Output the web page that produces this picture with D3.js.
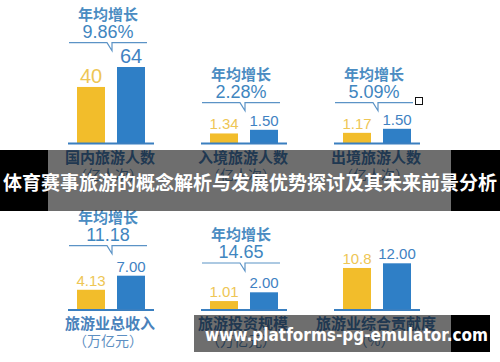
<!DOCTYPE html>
<html>
<head>
<meta charset="utf-8">
<script src="https://cdn.jsdelivr.net/npm/d3@7"></script>
<style>
body{margin:0;background:#fff;}
svg{display:block;}
</style>
</head>
<body>
<script>
// chart data
var panelNames=["国内旅游人数","入境旅游人数","出境旅游人数","旅游业总收入","旅游投资规模","旅游业综合贡献度"];
var panelUnits=["（亿人次）","（亿人次）","（亿人次）","（万亿元）","（万亿元）","（%）"];
var seriesNames=["基期","目标"];
var baseValues=[40,1.34,1.17,4.13,1.01,10.8];
var targetValues=[64,1.50,1.50,7.00,2.00,12.00];
var baseLabels=["40","1.34","1.17","4.13","1.01","10.8"];
var targetLabels=["64","1.50","1.50","7.00","2.00","12.00"];
var growthLabels=["9.86%","2.28%","5.09%","11.18","14.65",null];
var headline="体育赛事旅游的概念解析与发展优势探讨及其未来前景分析";
var siteText="www.platforms-pg-emulator.com";

// layout
var W=500,H=362;
var colX=[77,210,343];
var rowBase=[143.5,310];
var barTopH=[76.5,13.7,14.7,34.3,17.7,46.7];
var domainLo=[-28,0.9,0.3,0,0,0];
var calloutY=[42.7,102.7,102.7,245.7,263,null];
var yellow="#f2bd2b",blue="#2f7fc6",textBlue="#4a8cc2";

var svg=d3.select('body').append('svg').attr('width',W).attr('height',H);

for(let i=0;i<6;i++){
  var x0=colX[i%3];
  var base=rowBase[Math.floor(i/3)];
  var vals=[baseValues[i],targetValues[i]];
  var labs=[baseLabels[i],targetLabels[i]];

  var x=d3.scaleBand().domain(seriesNames).range([x0,x0+68]).paddingInner(0.3).paddingOuter(0);
  var y=d3.scaleLinear().domain([domainLo[i],targetValues[i]]).range([base,base-barTopH[i]]);

  var g=svg.append('g');

  g.selectAll('rect.bar').data(vals).enter().append('rect')
    .attr('class','bar')
    .attr('x',(d,j)=>x(seriesNames[j]))
    .attr('width',x.bandwidth())
    .attr('y',d=>y(d))
    .attr('height',d=>base-y(d))
    .attr('fill',(d,j)=>j==0?yellow:blue);

  g.selectAll('text.val').data(vals).enter().append('text')
    .attr('class','val')
    .text((d,j)=>labs[j])
    .attr('x',(d,j)=>x(seriesNames[j])+x.bandwidth()/2)
    .attr('y',d=>y(d)-4)
    .attr('text-anchor','middle')
    .style('font-family','Liberation Sans, Arial, sans-serif')
    .style('font-size',i==0?'20px':'15px')
    .attr('fill',(d,j)=>j==0?'#eec655':'#3f82c2');

  // baseline
  g.append('line')
    .attr('x1',x0-9).attr('x2',x0+77)
    .attr('y1',base).attr('y2',base)
    .style('stroke','#3a7fc0').style('stroke-width',2);

  // labels under the bars
  g.append('text')
    .text(panelNames[i])
    .attr('x',x0+33).attr('y',base+19)
    .attr('text-anchor','middle')
    .style('font-family','Noto Sans CJK SC')
    .style('font-weight','bold')
    .style('font-size','15px')
    .attr('fill','#4a82bb');
  g.append('text')
    .text(panelUnits[i])
    .attr('x',x0+31).attr('y',base+36)
    .attr('text-anchor','middle')
    .style('font-family','Noto Sans CJK SC')
    .style('font-size','14px')
    .attr('fill','#5d8fc2');

  // callout with growth rate
  if(growthLabels[i]!=null){
    var cy=calloutY[i];
    g.append('path')
      .attr('d','M'+(x0-8)+','+cy+'H'+(x0+30)+'L'+(x0+35)+','+(cy+8)+'V'+cy+'H'+(x0+70))
      .attr('fill','none')
      .style('stroke','#5b93c6').style('stroke-width',1.2);
    g.append('text')
      .text('年均增长')
      .attr('x',x0+31).attr('y',cy-23)
      .attr('text-anchor','middle')
      .style('font-family','Noto Sans CJK SC')
      .style('font-weight','bold')
      .style('font-size','15px')
      .attr('fill',textBlue);
    g.append('text')
      .text(growthLabels[i])
      .attr('x',x0+31).attr('y',cy-5)
      .attr('text-anchor','middle')
      .style('font-family','Liberation Sans, Arial, sans-serif')
      .style('font-size','18px')
      .attr('fill','#3f86c0');
  }
}

// small box
svg.append('rect')
  .attr('x',415.5).attr('y',97.5).attr('width',7).attr('height',7)
  .attr('fill','#fff').style('stroke','#111').style('stroke-width',1);

// dark bands
svg.append('rect').attr('x',0).attr('y',150).attr('width',48).attr('height',61).attr('fill','#000');
svg.append('rect').attr('x',451).attr('y',150).attr('width',49).attr('height',61).attr('fill','#000');
svg.append('rect').attr('x',48).attr('y',150).attr('width',403).attr('height',61).attr('fill','rgba(0,0,0,0.57)');

svg.append('text')
  .text(headline)
  .attr('x',250).attr('y',190)
  .attr('text-anchor','middle')
  .attr('textLength',494).attr('lengthAdjust','spacingAndGlyphs')
  .style('font-family','Noto Sans CJK SC')
  .style('font-weight','bold')
  .style('font-size','19px')
  .attr('fill','#fff');

svg.append('rect').attr('x',194).attr('y',315).attr('width',257).attr('height',37).attr('fill','rgba(0,0,0,0.57)');
svg.append('rect').attr('x',451).attr('y',315).attr('width',39).attr('height',37).attr('fill','#000');

svg.append('text')
  .text(siteText)
  .attr('x',205).attr('y',341)
  .attr('textLength',283).attr('lengthAdjust','spacingAndGlyphs')
  .style('font-family','DejaVu Sans')
  .style('font-weight','bold')
  .style('font-size','18px')
  .attr('fill','#fff');
</script>
</body>
</html>
